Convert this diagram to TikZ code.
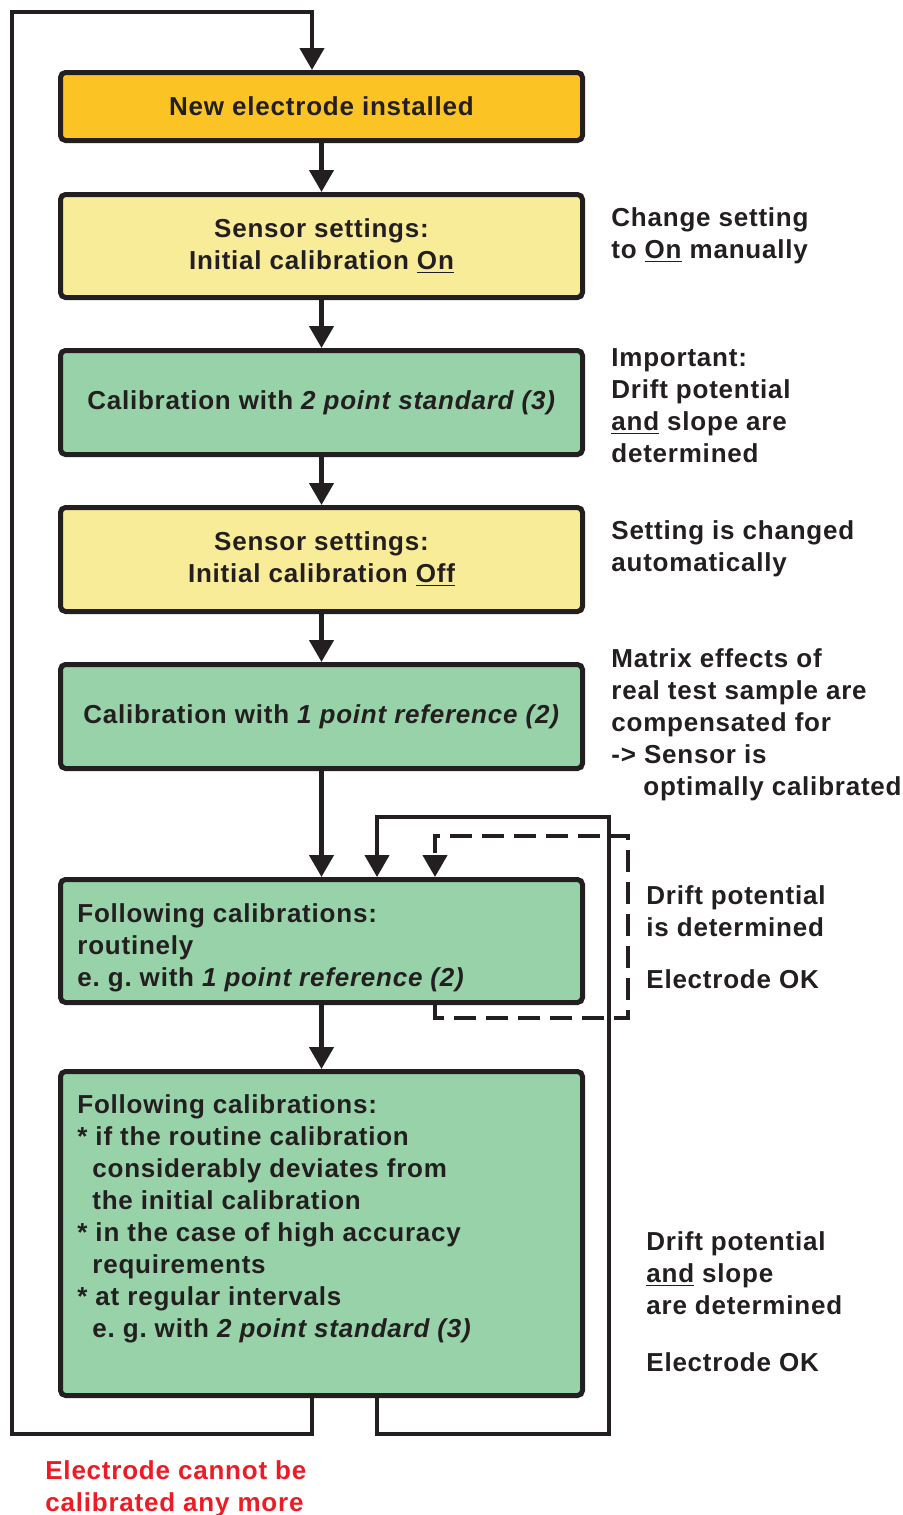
\documentclass[tikz,border=0pt]{standalone}
\usepackage{fontspec}
\setmainfont{Liberation Sans}[LetterSpace=3]
\usetikzlibrary{arrows.meta,positioning}
\frenchspacing

\definecolor{boxorange}{RGB}{251,195,35}
\definecolor{boxyellow}{RGB}{249,236,153}
\definecolor{boxgreen}{RGB}{152,210,168}
\definecolor{linegray}{RGB}{35,31,32}
\definecolor{warnred}{RGB}{237,28,36}

\newcommand{\flowfont}{\bfseries\fontsize{13}{16}\selectfont}

\begin{document}
\begin{tikzpicture}[x=0.5pt,y=-0.5pt]

\tikzstyle{stepbox}=[draw=linegray,line width=2.5pt,rounded corners=2.5pt,minimum width=261pt,inner sep=0pt,align=center,text=linegray,font=\flowfont]
\tikzstyle{note}=[anchor=base west,inner sep=0pt,align=left,text=linegray,font=\flowfont]
\tikzstyle{flow}=[draw=linegray,line width=2.2pt,-{Triangle[length=11pt,width=12pt]}]
\tikzstyle{check}=[flow,dash pattern=on 11pt off 5pt]

\useasboundingbox (0,0) rectangle (903,1515);

% boxes of the flow
\node (installed) [stepbox,fill=boxorange,minimum height=34pt] at (321.5,106.5) {New electrode installed};
\node (initon) [stepbox,fill=boxyellow,minimum height=51.5pt] at (321.5,246) {Sensor settings:\\Initial calibration \underline{On}};
\node (twopoint) [stepbox,fill=boxgreen,minimum height=52pt] at (321.5,402.5) {Calibration with \textit{2 point standard (3)}};
\node (initoff) [stepbox,fill=boxyellow,minimum height=52pt] at (321.5,559.5) {Sensor settings:\\Initial calibration \underline{Off}};
\node (onepoint) [stepbox,fill=boxgreen,minimum height=52pt] at (321.5,716.5) {Calibration with \textit{1 point reference (2)}};
\node (routine) [stepbox,fill=boxgreen,minimum height=61.5pt] at (321.5,941) {};
\node (special) [stepbox,fill=boxgreen,minimum height=162pt] at (321.5,1233.5) {};
% base anchor = last line
\node (routinetext) [note] at (77,986) {Following calibrations:\\routinely\\e. g. with \textit{1 point reference (2)}};
\node (specialtext) [note] at (77,1337) {Following calibrations:\\
* if the routine calibration\\
\hspace*{7.5pt}considerably deviates from\\
\hspace*{7.5pt}the initial calibration\\
* in the case of high accuracy\\
\hspace*{7.5pt}requirements\\
* at regular intervals\\
\hspace*{7.5pt}e. g. with \textit{2 point standard (3)}};

% remarks on the right
\node (manual) [note] at (611,258) {Change setting\\to \underline{On} manually};
\node (important) [note] at (611,462) {Important:\\Drift potential\\\underline{and} slope are\\determined};
\node (automatic) [note] at (611,571) {Setting is changed\\automatically};
\node (matrix) [note] at (611,795) {Matrix effects of\\real test sample are\\compensated for\\-> Sensor is\\\hspace*{16pt}optimally calibrated};
\node (driftok) [note] at (646,988) {Drift potential\\is determined\\[10pt]Electrode OK};
\node (slopeok) [note] at (646,1371) {Drift potential\\\underline{and} slope\\are determined\\[12.5pt]Electrode OK};
\node (failed) [note,text=warnred] at (45,1511) {Electrode cannot be\\calibrated any more};

% straight steps
\draw [flow] (installed) -- (initon);
\draw [flow] (initon) -- (twopoint);
\draw [flow] (twopoint) -- (initoff);
\draw [flow] (initoff) -- (onepoint);
\draw [flow] (onepoint) -- (routine);
\draw [flow] (routine) -- (special);

% loops back
\coordinate (failout) at (312,1398);
\coordinate (failcorner) at (12,1434);
\coordinate (failin) at (312,70);
\draw [flow] (failout) |- (failcorner) |- (12,12) -| (failin);

\coordinate (okout) at (377,1398);
\coordinate (okcorner) at (609,1434);
\coordinate (oktop) at (377,817);
\coordinate (okin) at (377,877);
\draw [flow] (okout) |- (okcorner) |- (oktop) -- (okin);

\coordinate (checkout) at (435,1005);
\coordinate (checkcorner) at (628,1018);
\coordinate (checktop) at (435,836);
\coordinate (checkin) at (435,877);
\draw [check] (checkout) |- (checkcorner) |- (checktop) -- (checkin);

\end{tikzpicture}
\end{document}
